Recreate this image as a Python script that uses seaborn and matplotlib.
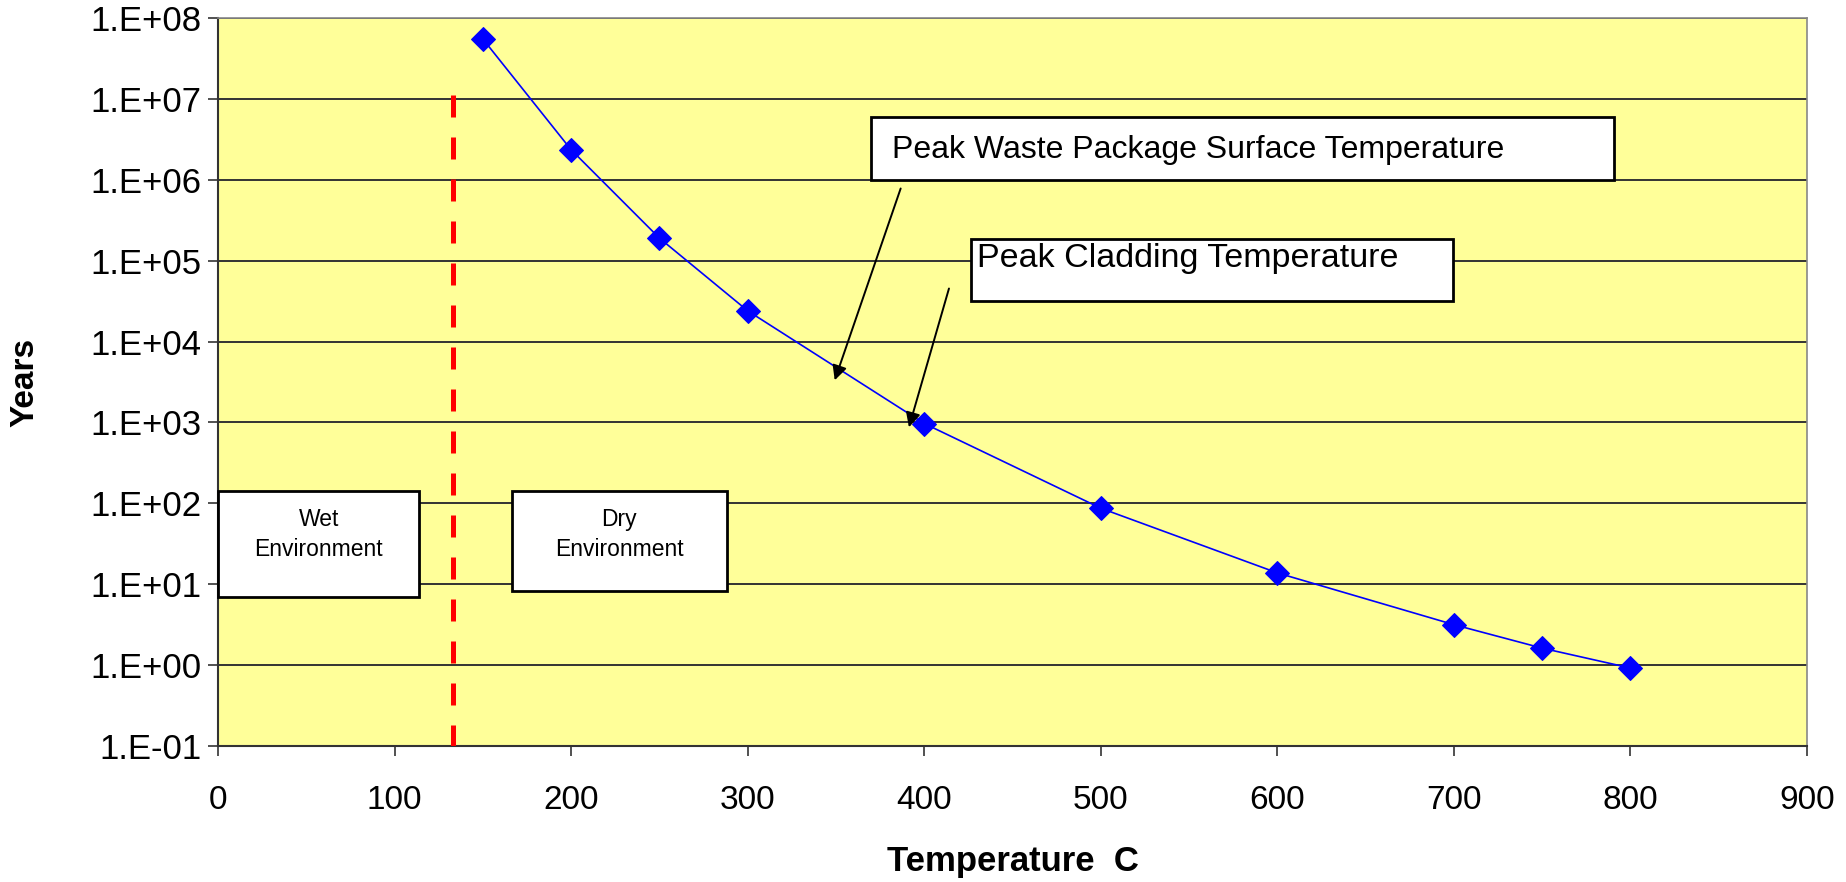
import matplotlib
matplotlib.use("Agg")
import matplotlib.pyplot as plt
import matplotlib.patches as mpatches
from matplotlib.ticker import FixedLocator, FuncFormatter
import seaborn as sns
import pandas as pd
import numpy as np

# Temperature (C) vs. time (years)
temperature_c = [150, 200, 250, 300, 400, 500, 600, 700, 750, 800]
years = [5.5e7, 2.35e6, 1.9e5, 2.4e4, 9.7e2, 87, 13.8, 3.16, 1.62, 0.92]

# Wet / dry environment boundary
boundary_temp = 133
boundary_years = [1.13e7, 0.1]

x_ticks = [0, 100, 200, 300, 400, 500, 600, 700, 800, 900]
y_exponents = [-1, 0, 1, 2, 3, 4, 5, 6, 7, 8]

df = pd.DataFrame({"Temperature  C": temperature_c, "Years": years})

sns.set_style("white")
plt.rcParams["font.family"] = ["Liberation Sans", "DejaVu Sans"]
plt.rcParams["text.color"] = "black"
plt.rcParams["axes.labelcolor"] = "black"

fig = plt.figure(figsize=(18.46, 8.82), dpi=100)
ax = fig.add_axes([0.1181, 0.1542, 0.9789 - 0.1181, 0.9796 - 0.1542])
ax.set_facecolor("#FFFF99")

ax.set_yscale("log")
ax.set_xlim(0, 900)
ax.set_ylim(0.1, 1e8)

# decade grid lines
for e in y_exponents:
    ax.axhline(10.0 ** e, color="#333333", lw=1.4, zorder=1)

sns.lineplot(data=df, x="Temperature  C", y="Years", ax=ax, color="#0000FF",
             lw=1.2, marker="D", markersize=12, markeredgecolor="#0000FF",
             markerfacecolor="#0000FF", zorder=4)

ax.plot([boundary_temp, boundary_temp], boundary_years, color="#FF0000", lw=3.6,
        dashes=(4.4, 4.0), zorder=3, dash_capstyle="butt")

ax.xaxis.set_major_locator(FixedLocator(x_ticks))
ax.yaxis.set_major_locator(FixedLocator([10.0 ** e for e in y_exponents]))
ax.yaxis.set_minor_locator(FixedLocator([]))
ax.yaxis.set_major_formatter(FuncFormatter(lambda v, p: "1.E%+03d" % int(round(np.log10(v)))))
ax.tick_params(axis="both", which="major", direction="out", length=7, width=1.2,
               color="#333333", labelcolor="black", bottom=True, left=True)
ax.tick_params(axis="x", pad=21, labelsize=24)
ax.tick_params(axis="y", pad=5, labelsize=25)

for side in ["left", "bottom"]:
    ax.spines[side].set_color("#333333")
    ax.spines[side].set_linewidth(1.5)
for side in ["top", "right"]:
    ax.spines[side].set_color("#888888")
    ax.spines[side].set_linewidth(1.2)

ax.set_xlabel("Temperature  C", fontsize=25, fontweight="bold")
ax.set_ylabel("Years", fontsize=24, fontweight="bold")
ax.xaxis.set_label_coords(0.5, -0.158)
ax.yaxis.set_label_coords(-0.1215, 0.5)
ax.xaxis.label.set_va("center")
ax.yaxis.label.set_va("center")

# Text boxes
def box(x0, y0, x1, y1):
    ax.add_patch(mpatches.Rectangle((x0, y0), x1 - x0, y1 - y0, transform=ax.transAxes,
                                    facecolor="white", edgecolor="black", lw=2,
                                    zorder=5, clip_on=False))

box(0.0, 0.2052, 0.1267, 0.3506)
ax.text(0.0633, 0.2900, "Wet\nEnvironment", transform=ax.transAxes, ha="center",
        va="center", fontsize=16.5, linespacing=1.4, zorder=6)
box(0.1852, 0.2132, 0.3200, 0.3506)
ax.text(0.2526, 0.2900, "Dry\nEnvironment", transform=ax.transAxes, ha="center",
        va="center", fontsize=16.5, linespacing=1.4, zorder=6)

box(0.4111, 0.7771, 0.8785, 0.8643)
ax.text(0.4244, 0.8190, "Peak Waste Package Surface Temperature", transform=ax.transAxes,
        ha="left", va="center", fontsize=23, zorder=6)
box(0.4741, 0.6107, 0.7770, 0.6963)
ax.text(0.4775, 0.6690, "Peak Cladding Temperature", transform=ax.transAxes,
        ha="left", va="center", fontsize=24.5, zorder=6)

arrow = dict(arrowstyle="-|>", color="black", lw=1.4, mutation_scale=22,
             shrinkA=0, shrinkB=0)
ax.annotate("", xy=(0.3881, 0.5024), xytext=(0.4296, 0.7658),
            xycoords="axes fraction", textcoords="axes fraction", arrowprops=arrow, zorder=6)
ax.annotate("", xy=(0.4348, 0.4378), xytext=(0.4600, 0.6284),
            xycoords="axes fraction", textcoords="axes fraction", arrowprops=arrow, zorder=6)

fig.savefig("out.png", dpi=100, facecolor="white")
